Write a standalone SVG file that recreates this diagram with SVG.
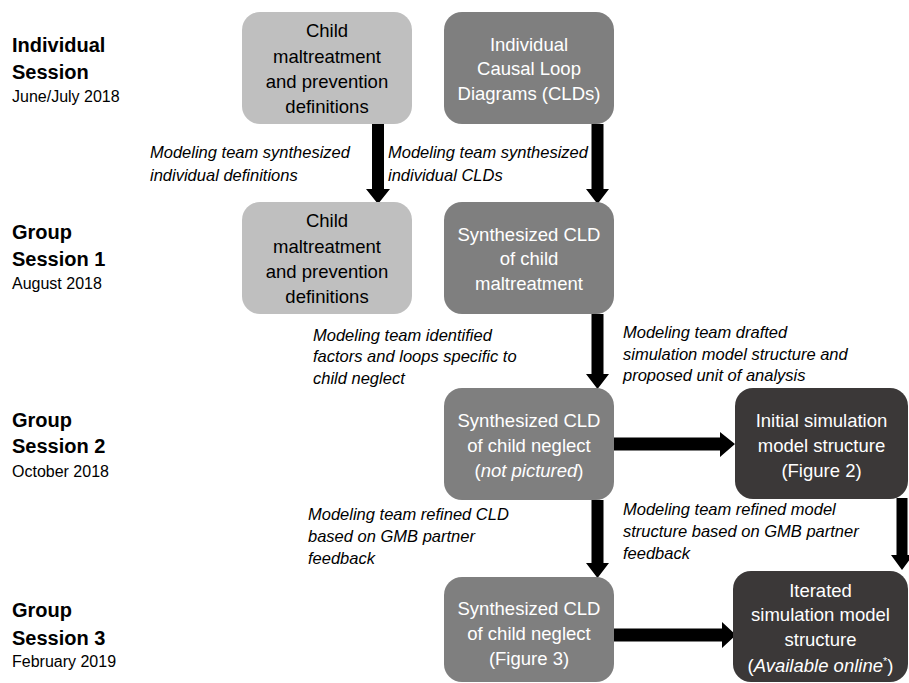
<svg xmlns="http://www.w3.org/2000/svg" width="909" height="683" viewBox="0 0 909 683">
<style>
.lbl{font-family:"Liberation Sans",Arial,sans-serif;font-weight:bold;font-size:20px;fill:#000}
.date{font-family:"Liberation Sans",Arial,sans-serif;font-size:16px;fill:#000}
.ann{font-family:"Liberation Sans",Arial,sans-serif;font-style:italic;font-size:16.5px;fill:#000}
.bt{font-family:"Liberation Sans",Arial,sans-serif;font-size:18.5px;text-anchor:middle}
.dk{fill:#000}
.wt{fill:#fff}
.light{fill:#bfbfbf}
.mid{fill:#7f7f7f}
.dark{fill:#3b3838}
.arr{fill:#000}
</style>
<rect width="909" height="683" fill="#fff"/>
<g id="labels">
<text class="lbl" x="12" y="52">Individual</text>
<text class="lbl" x="12" y="79">Session</text>
<text class="date" x="12" y="102">June/July 2018</text>
<text class="lbl" x="12" y="239">Group</text>
<text class="lbl" x="12" y="266">Session 1</text>
<text class="date" x="12" y="289">August 2018</text>
<text class="lbl" x="12" y="427">Group</text>
<text class="lbl" x="12" y="453">Session 2</text>
<text class="date" x="12" y="477">October 2018</text>
<text class="lbl" x="12" y="617">Group</text>
<text class="lbl" x="12" y="645">Session 3</text>
<text class="date" x="12" y="667">February 2019</text>
</g>
<g id="connectors">
<polygon class="arr" points="372,124 384,124 384,189 390,189 378,204 366,189 372,189"/>
<polygon class="arr" points="591.5,124 603.5,124 603.5,189 609,189 597.5,204 586,189 591.5,189"/>
<polygon class="arr" points="591.5,314 603.5,314 603.5,374 609,374 597.5,389 586,374 591.5,374"/>
<polygon class="arr" points="591.5,500 603.5,500 603.5,563 609,563 597.5,578 586,563 591.5,563"/>
<polygon class="arr" points="896.5,498 907.5,498 907.5,555 913,555 902,570 891,555 896.5,555"/>
<polygon class="arr" points="614,437.5 720,437.5 720,432 735,444 720,457 720,450.5 614,450.5"/>
<polygon class="arr" points="614,628.5 722,628.5 722,622 736,635 722,648 722,641.5 614,641.5"/>
</g>
<g id="annotations">
<text class="ann" x="150" y="158">Modeling team synthesized</text>
<text class="ann" x="150" y="181">individual definitions</text>
<text class="ann" x="388" y="158">Modeling team synthesized</text>
<text class="ann" x="388" y="181">individual CLDs</text>
<text class="ann" x="313" y="340.5">Modeling team identified</text>
<text class="ann" x="313" y="362">factors and loops specific to</text>
<text class="ann" x="313" y="383.5">child neglect</text>
<text class="ann" x="623" y="338">Modeling team drafted</text>
<text class="ann" x="623" y="360">simulation model structure and</text>
<text class="ann" x="623" y="381">proposed unit of analysis</text>
<text class="ann" x="308" y="520">Modeling team refined CLD</text>
<text class="ann" x="308" y="542">based on GMB partner</text>
<text class="ann" x="308" y="564">feedback</text>
<text class="ann" x="623" y="515">Modeling team refined model</text>
<text class="ann" x="623" y="537">structure based on GMB partner</text>
<text class="ann" x="623" y="559">feedback</text>
</g>
<g id="node-defs-individual">
<rect class="light" x="242" y="12" width="170" height="112" rx="18"/>
<text class="bt dk" x="327" y="37">Child</text>
<text class="bt dk" x="327" y="63">maltreatment</text>
<text class="bt dk" x="327" y="87.5">and prevention</text>
<text class="bt dk" x="327" y="113">definitions</text>
</g>
<g id="node-clds-individual">
<rect class="mid" x="444" y="12" width="170" height="112" rx="18"/>
<text class="bt wt" x="529" y="50.5">Individual</text>
<text class="bt wt" x="529" y="75">Causal Loop</text>
<text class="bt wt" x="529" y="100">Diagrams (CLDs)</text>
</g>
<g id="node-defs-group1">
<rect class="light" x="242" y="202" width="170" height="112" rx="18"/>
<text class="bt dk" x="327" y="227">Child</text>
<text class="bt dk" x="327" y="253">maltreatment</text>
<text class="bt dk" x="327" y="277.5">and prevention</text>
<text class="bt dk" x="327" y="303">definitions</text>
</g>
<g id="node-cld-maltreatment">
<rect class="mid" x="444" y="202" width="170" height="112" rx="18"/>
<text class="bt wt" x="529" y="241">Synthesized CLD</text>
<text class="bt wt" x="529" y="265">of child</text>
<text class="bt wt" x="529" y="290">maltreatment</text>
</g>
<g id="node-cld-neglect-1">
<rect class="mid" x="444" y="388" width="170" height="112" rx="18"/>
<text class="bt wt" x="529" y="427">Synthesized CLD</text>
<text class="bt wt" x="529" y="452">of child neglect</text>
<text class="bt wt" x="529" y="477">(<tspan font-style="italic">not pictured</tspan>)</text>
</g>
<g id="node-initial-sim">
<rect class="dark" x="735" y="388" width="173" height="111" rx="18"/>
<text class="bt wt" x="821.5" y="427">Initial simulation</text>
<text class="bt wt" x="821.5" y="452">model structure</text>
<text class="bt wt" x="821.5" y="477">(Figure 2)</text>
</g>
<g id="node-cld-neglect-2">
<rect class="mid" x="444" y="577" width="170" height="105" rx="18"/>
<text class="bt wt" x="529" y="615">Synthesized CLD</text>
<text class="bt wt" x="529" y="640">of child neglect</text>
<text class="bt wt" x="529" y="665">(Figure 3)</text>
</g>
<g id="node-iterated-sim">
<rect class="dark" x="733" y="571" width="175" height="111" rx="18"/>
<text class="bt wt" x="820.5" y="597">Iterated</text>
<text class="bt wt" x="820.5" y="621">simulation model</text>
<text class="bt wt" x="820.5" y="646">structure</text>
<text class="bt wt" x="820.5" y="672">(<tspan font-style="italic">Available online</tspan><tspan font-size="11" dy="-7">*</tspan><tspan dy="7">)</tspan></text>
</g>
</svg>
